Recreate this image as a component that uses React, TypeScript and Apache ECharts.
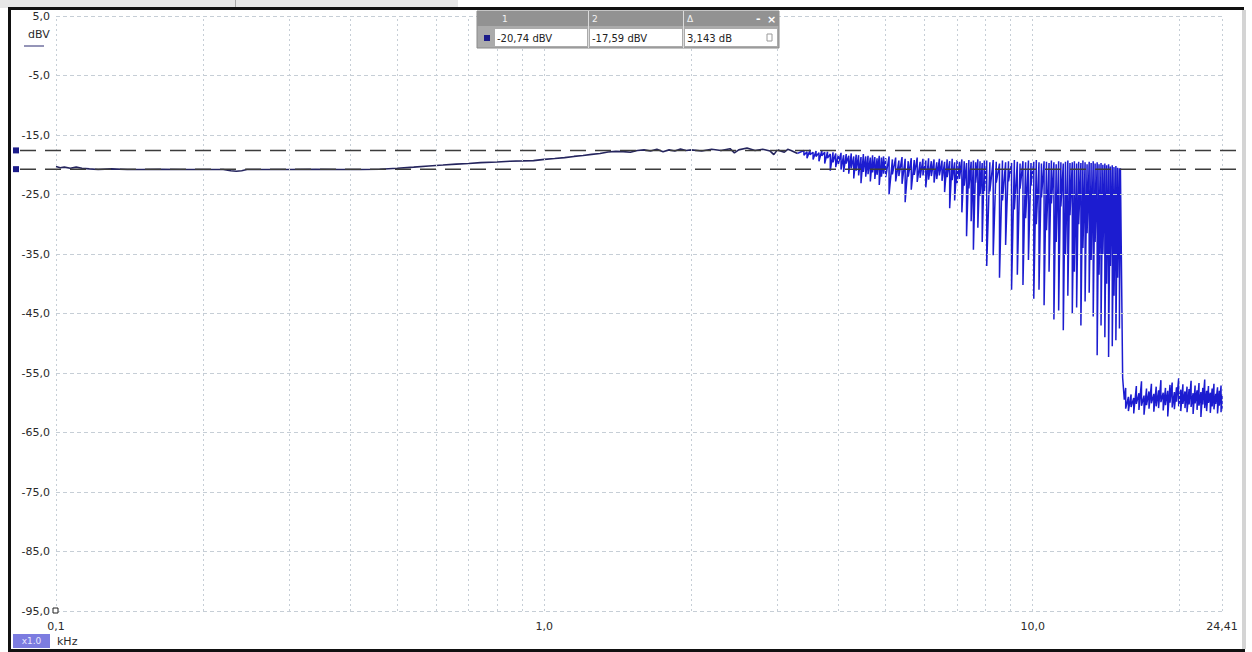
import React, { useEffect, useRef } from 'react';
import * as echarts from 'echarts';

// ---- axis ticks / grid ----
const yTickValues = [5, -5, -15, -25, -35, -45, -55, -65, -75, -85, -95];
const xGridValues = [0.1, 0.2, 0.3, 0.4, 0.5, 0.6, 0.7, 0.8, 0.9, 1, 2, 3, 4, 5, 6, 7, 8, 9, 10, 20, 24.41];
const xMin = 0.1;
const xMax = 24.41;
const yMin = -95;
const yMax = 5;

// ---- cursors ----
const cursor1 = -20.74;
const cursor2 = -17.59;
const cursorLabels = ['-20,74 dBV', '-17,59 dBV', '3,143 dB'];

// ---- smooth part of the spectrum (kHz, dBV) ----
const smoothFreq = [
  0.1, 0.102, 0.104, 0.107, 0.11, 0.113, 0.117, 0.122, 0.13, 0.14, 0.15, 0.165, 0.18, 0.2, 0.22, 0.228,
  0.234, 0.24, 0.246, 0.27, 0.3, 0.34, 0.38, 0.42, 0.46, 0.5, 0.54, 0.58, 0.62, 0.66, 0.7, 0.74, 0.8,
  0.85, 0.9, 0.95, 1.0, 1.05, 1.1, 1.15, 1.2, 1.25, 1.3, 1.35, 1.4, 1.45, 1.5, 1.55, 1.6, 1.65, 1.7,
  1.75, 1.8, 1.85, 1.9, 1.95, 2.0, 2.1, 2.2, 2.3, 2.4, 2.45, 2.5, 2.6, 2.7, 2.8, 2.9, 2.95, 3.0, 3.1,
  3.15, 3.2, 3.3,
];
const smoothLevel = [
  -20.3, -20.5, -20.4, -20.6, -20.4, -20.6, -20.7, -20.8, -20.7, -20.8, -20.8, -20.75, -20.8, -20.8, -20.8, -21.0,
  -21.1, -21.0, -20.8, -20.8, -20.8, -20.75, -20.8, -20.8, -20.75, -20.6, -20.4, -20.2, -20.05, -19.9, -19.8, -19.65, -19.55,
  -19.4, -19.35, -19.3, -19.1, -18.95, -18.8, -18.6, -18.45, -18.25, -18.1, -17.85, -17.75, -17.8, -17.9, -17.6, -17.5, -17.7, -17.4,
  -17.8, -17.5, -17.7, -17.35, -17.6, -17.5, -17.7, -17.4, -17.6, -17.3, -18.0, -17.5, -17.2, -17.6, -17.4, -17.7, -18.3, -17.5, -17.9,
  -17.4, -17.6, -18.1,
];

// ---- dense band 3.4 - 15.05 kHz: each bin has a top and a low value ----
const bandFreq = [
  3.40, 3.45, 3.50, 3.55, 3.60, 3.65, 3.70, 3.75, 3.80, 3.85, 3.90, 3.95, 4.00, 4.05, 4.10, 4.15,
  4.20, 4.25, 4.30, 4.35, 4.40, 4.45, 4.50, 4.55, 4.60, 4.65, 4.70, 4.75, 4.80, 4.85, 4.90, 4.95,
  5.00, 5.08, 5.16, 5.24, 5.32, 5.40, 5.48, 5.56, 5.64, 5.72, 5.80, 5.88, 5.96, 6.04, 6.12, 6.20,
  6.28, 6.36, 6.44, 6.52, 6.60, 6.68, 6.76, 6.84, 6.92, 7.00, 7.08, 7.16, 7.24, 7.32, 7.40, 7.48,
  7.56, 7.64, 7.72, 7.80, 7.88, 7.96,
  8.05, 8.17, 8.30, 8.42, 8.55, 8.67, 8.80, 8.92, 9.05, 9.17, 9.30, 9.42, 9.55, 9.67, 9.80, 9.92,
  10.05, 10.17, 10.30, 10.42, 10.55, 10.67, 10.80, 10.92, 11.05, 11.17, 11.30, 11.42, 11.55, 11.67,
  11.80, 11.92, 12.05, 12.17, 12.30, 12.42, 12.55, 12.67, 12.80, 12.92, 13.05, 13.17, 13.30, 13.42,
  13.55, 13.67, 13.80, 13.92, 14.05, 14.17, 14.30, 14.42, 14.55, 14.67, 14.80, 14.92, 15.05,
];
const bandTop = [
  -17.6, -17.8, -17.5, -17.9, -17.7, -18.0, -17.6, -17.9, -17.8, -18.2, -17.9, -18.1, -18.3, -18.0, -18.4, -18.2,
  -18.5, -18.1, -18.6, -18.3, -18.4, -18.7, -18.2, -18.6, -18.5, -18.8, -18.4, -18.7, -18.9, -18.5, -18.8, -18.6,
  -18.9, -18.6, -19.1, -18.8, -19.3, -18.7, -19.0, -19.4, -18.9, -19.2, -18.8, -19.5, -19.0, -19.3, -18.9, -19.4,
  -19.1, -19.6, -19.0, -19.3, -19.5, -19.1, -19.4, -19.0, -19.6, -19.2, -19.5, -19.1, -19.4, -19.7, -19.2, -19.5,
  -19.3, -19.6, -19.1, -19.4, -19.7, -19.3,
  -19.3, -19.6, -19.2, -19.5, -19.8, -19.3, -19.6, -19.4, -19.7, -19.2, -19.5, -19.8, -19.4, -19.6, -19.3, -19.7,
  -19.5, -19.2, -19.6, -19.8, -19.4, -19.5, -19.7, -19.3, -19.6, -19.9, -19.4, -19.6, -19.8, -19.5,
  -19.3, -19.7, -19.6, -19.4, -19.8, -19.5, -19.7, -19.3, -19.6, -19.9, -19.5, -19.7, -19.4, -19.8,
  -19.6, -19.9, -19.7, -20.0, -19.8, -20.1, -19.9, -20.3, -20.1, -20.4, -20.2, -20.5, -20.6,
];
const bandLow = [
  -18.4, -18.9, -18.3, -19.1, -18.6, -19.4, -18.5, -19.8, -18.9, -21.0, -19.6, -20.4, -19.9, -20.8, -21.2, -19.8,
  -21.5, -20.6, -22.3, -21.0, -21.8, -23.1, -21.2, -22.0, -21.6, -22.8, -21.3, -22.4, -21.7, -23.4, -22.0, -21.5,
  -22.1, -25.0, -21.6, -22.8, -21.9, -23.2, -26.3, -22.0, -24.2, -21.7, -22.9, -22.2, -21.8, -23.8, -22.5, -21.9,
  -23.0, -22.4, -21.8, -22.7, -24.6, -22.1, -27.3, -22.6, -26.0, -23.1, -22.4, -28.0, -23.5, -32.0, -24.0, -29.5,
  -34.3, -23.0, -30.6, -25.2, -33.0, -24.4,
  -37.0, -24.5, -35.2, -23.0, -39.0, -26.0, -33.5, -22.8, -41.0, -27.5, -38.5, -24.0, -40.2, -29.0, -36.0, -23.5,
  -42.5, -30.0, -41.0, -25.5, -43.6, -31.0, -38.0, -26.5, -46.0, -33.0, -44.5, -27.0, -47.8, -35.0,
  -42.0, -28.5, -45.0, -38.0, -44.0, -30.0, -47.0, -34.0, -43.0, -31.5, -41.5, -36.0, -45.5, -33.0,
  -52.0, -38.5, -47.0, -35.0, -49.0, -40.0, -52.3, -37.0, -50.5, -42.0, -49.5, -39.0, -47.5,
];

// ---- the cut-off ----
const dropFreq = [15.12, 15.28, 15.4];
const dropLevel = [-20.6, -55.8, -59.5];

// ---- noise floor above the cut-off ----
const floorFreq = [
  15.5, 15.7, 15.9, 16.1, 16.3, 16.5, 16.7, 16.9, 17.1, 17.3, 17.5, 17.7, 17.9, 18.1, 18.3, 18.5,
  18.7, 18.9, 19.1, 19.3, 19.5, 19.7, 19.9, 20.1, 20.3, 20.5, 20.7, 20.9, 21.1, 21.3, 21.5, 21.7,
  21.9, 22.1, 22.3, 22.5, 22.7, 22.9, 23.1, 23.3, 23.5, 23.7, 23.9, 24.1, 24.3, 24.41,
];
const floorHi = [
  -57.5, -59.0, -58.6, -59.2, -57.2, -58.4, -56.4, -58.8, -57.6, -58.1, -56.8, -58.5, -57.3, -57.9, -56.2, -58.3,
  -57.5, -58.0, -57.0, -56.6, -58.2, -57.4, -55.9, -57.8, -56.9, -58.1, -57.3, -57.7, -56.3, -58.4, -57.1, -57.9,
  -56.7, -58.2, -57.5, -56.1, -58.0, -57.2, -58.3, -57.6, -56.8, -58.5, -57.4, -58.0, -57.1, -58.6,
];
const floorLo = [
  -61.0, -61.4, -60.7, -61.8, -60.2, -61.2, -60.5, -62.0, -60.4, -61.0, -60.1, -61.5, -60.6, -60.9, -59.9, -61.3,
  -60.4, -62.3, -60.0, -60.8, -61.1, -59.8, -60.6, -61.4, -60.2, -60.9, -61.6, -60.3, -60.7, -61.9, -60.1, -61.2,
  -60.5, -62.4, -60.3, -60.9, -61.4, -60.0, -61.7, -60.6, -61.1, -60.2, -61.8, -60.5, -61.6, -61.0,
];

const FONT = '"DejaVu Sans", "Liberation Sans", sans-serif';

function fmtComma(v: number, digits: number) {
  return v.toFixed(digits).replace('.', ',');
}

export default function App() {
  const ref = useRef<HTMLDivElement>(null);

  useEffect(() => {
    document.body.style.margin = '0';
    if (!ref.current) return;
    const chart = echarts.init(ref.current, undefined, { renderer: 'svg' });

    const smoothData = smoothFreq.map((f, i) => [f, smoothLevel[i]]);
    const noisyData: number[][] = [];
    noisyData.push(smoothData[smoothData.length - 1]);
    const nb = Math.min(bandFreq.length, bandTop.length, bandLow.length);
    for (let i = 0; i < nb; i++) {
      noisyData.push([bandFreq[i], bandTop[i]]);
      noisyData.push([bandFreq[i], bandLow[i]]);
    }
    dropFreq.forEach((f, i) => noisyData.push([f, dropLevel[i]]));
    const nf = Math.min(floorFreq.length, floorHi.length, floorLo.length);
    for (let i = 0; i < nf; i++) {
      noisyData.push([floorFreq[i], floorHi[i]]);
      noisyData.push([floorFreq[i], floorLo[i]]);
    }

    const gridColor = '#c6ced6';
    const gridLines = [
      ...xGridValues.map((v) => ({ xAxis: v, lineStyle: { color: gridColor, type: [2, 3], width: 1 } })),
      ...yTickValues.map((v) => ({ yAxis: v, lineStyle: { color: gridColor, type: [4, 3], width: 1 } })),
    ];

    chart.setOption({
      animation: false,
      backgroundColor: '#ffffff',
      grid: { left: 56, right: 30, top: 16, bottom: 41, containLabel: false },
      xAxis: {
        type: 'log',
        logBase: 10,
        min: xMin,
        max: xMax,
        axisLine: { show: false },
        axisTick: { show: false },
        splitLine: { show: false },
        axisLabel: {
          color: '#2a2a2a',
          fontSize: 11,
          fontFamily: FONT,
          margin: 10,
          showMinLabel: true,
          showMaxLabel: true,
          formatter: (v: number) => {
            if (Math.abs(v - xMax) < 0.05) return fmtComma(xMax, 2);
            return fmtComma(Math.round(v * 10) / 10, 1);
          },
        },
      },
      yAxis: {
        type: 'value',
        min: yMin,
        max: yMax,
        axisLine: { show: false },
        axisTick: { show: false },
        splitLine: { show: false },
        axisLabel: {
          customValues: yTickValues,
          color: '#2a2a2a',
          fontSize: 11,
          fontFamily: FONT,
          margin: 6,
          formatter: (v: number) => fmtComma(v, 1),
        },
      },
      series: [
        {
          type: 'line',
          data: [[xMin, yMin]],
          showSymbol: false,
          lineStyle: { opacity: 0 },
          z: 1,
          silent: true,
          markLine: {
            silent: true,
            symbol: ['none', 'none'],
            label: { show: false },
            animation: false,
            data: gridLines,
          },
        },
        {
          type: 'line',
          data: smoothData,
          showSymbol: false,
          lineStyle: { color: '#25255e', width: 1.6 },
          z: 3,
        },
        {
          type: 'line',
          data: noisyData,
          showSymbol: false,
          lineStyle: { color: '#1c1cd0', width: 1.5 },
          z: 3,
        },
      ],
    });

    const yC1 = chart.convertToPixel({ yAxisIndex: 0 }, cursor1) as number;
    const yC2 = chart.convertToPixel({ yAxisIndex: 0 }, cursor2) as number;
    const origin = chart.convertToPixel({ gridIndex: 0 }, [xMin, yMin]) as number[];

    const bx = 477;
    const by = 11;
    const graphics: any[] = [
      // window frame
      { type: 'rect', shape: { x: 0, y: 0, width: 458, height: 8 }, style: { fill: '#e6e6e6' }, z: 30 },
      { type: 'rect', shape: { x: 235, y: 0, width: 1, height: 8 }, style: { fill: '#a8a8a8' }, z: 30 },
      { type: 'rect', shape: { x: 8, y: 7, width: 1236, height: 3 }, style: { fill: '#111' }, z: 30 },
      { type: 'rect', shape: { x: 8, y: 7, width: 3, height: 645 }, style: { fill: '#111' }, z: 30 },
      { type: 'rect', shape: { x: 8, y: 649, width: 1237, height: 3 }, style: { fill: '#111' }, z: 30 },
      { type: 'rect', shape: { x: 1242, y: 10, width: 4, height: 639 }, style: { fill: '#d4d4d4' }, z: 30 },
      // cursors
      { type: 'line', shape: { x1: 20, y1: yC1, x2: 1242, y2: yC1 }, style: { stroke: '#3c3c3c', lineWidth: 1.5, lineDash: [16, 9] }, z: 10 },
      { type: 'line', shape: { x1: 20, y1: yC2, x2: 1242, y2: yC2 }, style: { stroke: '#3c3c3c', lineWidth: 1.5, lineDash: [16, 9] }, z: 10 },
      { type: 'rect', shape: { x: 13, y: yC1 - 3, width: 6, height: 6 }, style: { fill: '#1c1c8a' }, z: 11 },
      { type: 'rect', shape: { x: 13, y: yC2 - 3, width: 6, height: 6 }, style: { fill: '#1c1c8a' }, z: 11 },
      // origin box
      { type: 'rect', shape: { x: origin[0] - 3, y: origin[1] - 3, width: 5, height: 5 }, style: { fill: '#fff', stroke: '#222', lineWidth: 1 }, z: 12 },
      // unit labels
      { type: 'text', x: 28, y: 34, style: { text: 'dBV', fontSize: 11, fontFamily: FONT, fill: '#2a2a2a', verticalAlign: 'middle' }, z: 12 },
      { type: 'line', shape: { x1: 24, y1: 46, x2: 44, y2: 46 }, style: { stroke: '#2a2a70', lineWidth: 1 }, z: 12 },
      { type: 'rect', shape: { x: 13, y: 634, width: 37, height: 14 }, style: { fill: '#7c7ce0' }, z: 12 },
      { type: 'text', x: 31.5, y: 641, style: { text: 'x1.0', fontSize: 9, fontFamily: FONT, fill: '#e8e8ff', align: 'center', verticalAlign: 'middle' }, z: 13 },
      { type: 'text', x: 57, y: 641, style: { text: 'kHz', fontSize: 11, fontFamily: FONT, fill: '#2a2a2a', verticalAlign: 'middle' }, z: 12 },
      // measurement box
      { type: 'rect', shape: { x: bx, y: by, width: 302, height: 37 }, style: { fill: '#ababab', stroke: '#8a8a8a', lineWidth: 1 }, z: 20 },
      { type: 'rect', shape: { x: bx, y: by, width: 302, height: 15 }, style: { fill: '#929292' }, z: 20 },
      { type: 'rect', shape: { x: bx + 111, y: by, width: 1, height: 37 }, style: { fill: '#dcdcdc' }, z: 21 },
      { type: 'rect', shape: { x: bx + 206, y: by, width: 1, height: 37 }, style: { fill: '#dcdcdc' }, z: 21 },
      { type: 'text', x: bx + 25, y: by + 8, style: { text: '1', fontSize: 9, fontFamily: FONT, fill: '#f2f2f2', verticalAlign: 'middle' }, z: 22 },
      { type: 'text', x: bx + 115, y: by + 8, style: { text: '2', fontSize: 9, fontFamily: FONT, fill: '#f2f2f2', verticalAlign: 'middle' }, z: 22 },
      { type: 'text', x: bx + 210, y: by + 8, style: { text: 'Δ', fontSize: 9, fontFamily: FONT, fill: '#f2f2f2', verticalAlign: 'middle' }, z: 22 },
      { type: 'text', x: bx + 279, y: by + 7, style: { text: '-', fontSize: 11, fontWeight: 'bold', fontFamily: FONT, fill: '#ffffff', verticalAlign: 'middle' }, z: 22 },
      { type: 'text', x: bx + 290, y: by + 8, style: { text: '×', fontSize: 11, fontWeight: 'bold', fontFamily: FONT, fill: '#ffffff', verticalAlign: 'middle' }, z: 22 },
      { type: 'rect', shape: { x: bx + 18, y: by + 18, width: 92, height: 17 }, style: { fill: '#ffffff' }, z: 21 },
      { type: 'rect', shape: { x: bx + 113, y: by + 18, width: 92, height: 17 }, style: { fill: '#ffffff' }, z: 21 },
      { type: 'rect', shape: { x: bx + 208, y: by + 18, width: 92, height: 17 }, style: { fill: '#ffffff' }, z: 21 },
      { type: 'rect', shape: { x: bx + 7, y: by + 24, width: 6, height: 6 }, style: { fill: '#1c1c8a' }, z: 22 },
      { type: 'text', x: bx + 20, y: by + 27, style: { text: cursorLabels[0], fontSize: 10, fontFamily: FONT, fill: '#222', verticalAlign: 'middle' }, z: 22 },
      { type: 'text', x: bx + 115, y: by + 27, style: { text: cursorLabels[1], fontSize: 10, fontFamily: FONT, fill: '#222', verticalAlign: 'middle' }, z: 22 },
      { type: 'text', x: bx + 210, y: by + 27, style: { text: cursorLabels[2], fontSize: 10, fontFamily: FONT, fill: '#222', verticalAlign: 'middle' }, z: 22 },
      { type: 'rect', shape: { x: bx + 290, y: by + 23, width: 5, height: 7 }, style: { fill: 'none', stroke: '#9a9a9a', lineWidth: 1 }, z: 22 },
    ];
    chart.setOption({ graphic: graphics });

    return () => {
      chart.dispose();
    };
  }, []);

  return <div ref={ref} style={{ width: 1252, height: 652, background: '#fff' }} />;
}
